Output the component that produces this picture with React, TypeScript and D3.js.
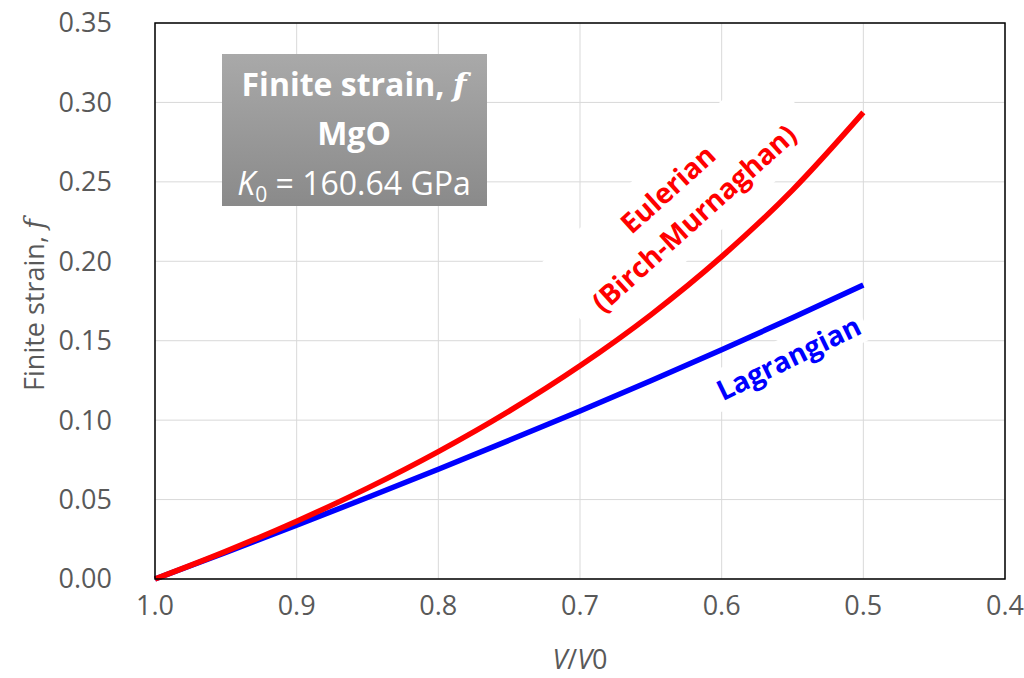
import React from "react";
import * as d3 from "d3";

// V/V0 sample points and the two finite strain curves
const volumeRatio = [1.0, 0.95, 0.9, 0.85, 0.8, 0.75, 0.7, 0.65, 0.6, 0.55, 0.5];
const eulerian = [0, 0.0174, 0.0364, 0.0572, 0.0802, 0.1057, 0.1342, 0.1663, 0.2029, 0.2448, 0.2937];
const lagrangian = [0, 0.0168, 0.0339, 0.0513, 0.0691, 0.0873, 0.1058, 0.1248, 0.1443, 0.1644, 0.185];

const xTicks = [1.0, 0.9, 0.8, 0.7, 0.6, 0.5, 0.4];
const yTicks = [0, 0.05, 0.1, 0.15, 0.2, 0.25, 0.3, 0.35];

const FONT = "'Open Sans', 'DejaVu Sans', sans-serif";

const App = () => {
  const width = 1024;
  const height = 678;
  const margin = { top: 23, left: 155, bottom: 99, right: 19 };

  const x = d3
    .scaleLinear()
    .domain([1.0, 0.4])
    .range([margin.left, width - margin.right]);

  const y = d3
    .scaleLinear()
    .domain([0, 0.35])
    .range([height - margin.bottom, margin.top]);

  const line = d3
    .line<number>()
    .x((d, i) => x(volumeRatio[i]))
    .y((d) => y(d))
    .curve(d3.curveMonotoneX);

  const plotW = x(0.4) - x(1.0);
  const plotH = y(0) - y(0.35);

  return (
    <svg width={width} height={height} style={{ position: "absolute", left: 0, top: 0, background: "#fff" }}>
      <rect x={0} y={0} width={width} height={height} fill="#fff" />
      <defs>
        <linearGradient id="boxGrad" x1="0" y1="0" x2="0" y2="1">
          <stop offset="0%" stopColor="#a9a9a9" />
          <stop offset="100%" stopColor="#8a8a8a" />
        </linearGradient>
      </defs>

      {/* grid */}
      <g stroke="#d9d9d9" strokeWidth={1}>
        {xTicks.map((t) => (
          <line key={"gx" + t} x1={x(t)} x2={x(t)} y1={y(0)} y2={y(0.35)} />
        ))}
        {yTicks.map((t) => (
          <line key={"gy" + t} x1={x(1.0)} x2={x(0.4)} y1={y(t)} y2={y(t)} />
        ))}
      </g>

      {/* tick labels */}
      <g fontFamily={FONT} fontSize={27} fill="#595959">
        {yTicks.map((t) => (
          <text key={"ty" + t} x={x(1.0) - 43} y={y(t)} dy="0.35em" textAnchor="end">
            {d3.format(".2f")(t)}
          </text>
        ))}
        {xTicks.map((t) => (
          <text key={"tx" + t} x={x(t)} y={y(0) + 36} textAnchor="middle">
            {d3.format(".1f")(t)}
          </text>
        ))}
      </g>

      {/* axis titles */}
      <text
        transform={`translate(44, ${(y(0) + y(0.35)) / 2 + 4}) rotate(-90)`}
        textAnchor="middle"
        fontFamily={FONT}
        fontSize={27}
        fill="#595959"
      >
        Finite strain, <tspan fontStyle="italic" fontFamily="'DejaVu Serif', serif">f</tspan>
      </text>
      <text x={(x(1.0) + x(0.4)) / 2} y={669} textAnchor="middle" fontFamily={FONT} fontSize={27} fill="#595959">
        <tspan fontStyle="italic">V</tspan>/<tspan fontStyle="italic">V</tspan>0
      </text>

      {/* label backgrounds */}
      <g transform="translate(684, 207) rotate(-42)">
        <rect x={-152} y={-54} width={304} height={96} fill="#fff" />
      </g>
      <g transform="translate(789, 359) rotate(-26)">
        <rect x={-84} y={-22} width={168} height={40} fill="#fff" />
      </g>

      {/* curves */}
      <path d={line(lagrangian) || ""} fill="none" stroke="#0000ff" strokeWidth={5.5} />
      <path d={line(eulerian) || ""} fill="none" stroke="#ff0000" strokeWidth={5.5} />

      {/* curve labels */}
      <g transform="translate(684, 207) rotate(-42)" fontFamily={FONT} fontWeight="bold" fontSize={28} fill="#ff0000" textAnchor="middle">
        <text x={0} y={-14}>Eulerian</text>
        <text x={0} y={25}>(Birch-Murnaghan)</text>
      </g>
      <g transform="translate(789, 359) rotate(-26)" fontFamily={FONT} fontWeight="bold" fontSize={28} fill="#0000ff" textAnchor="middle">
        <text x={0} y={9}>Lagrangian</text>
      </g>

      {/* info box */}
      <rect x={222} y={54} width={265} height={152} fill="url(#boxGrad)" />
      <g fontFamily={FONT} fill="#fff" textAnchor="middle" fontSize={32}>
        <text x={354} y={96} fontWeight="bold">
          Finite strain, <tspan fontStyle="italic" fontFamily="'DejaVu Serif', serif">f</tspan>
        </text>
        <text x={354} y={145} fontWeight="bold">MgO</text>
        <text x={354} y={195}>
          <tspan fontStyle="italic">K</tspan>
          <tspan fontSize={21} dy={7}>0</tspan>
          <tspan dy={-7}> = 160.64 GPa</tspan>
        </text>
      </g>

      {/* plot border */}
      <rect x={x(1.0)} y={y(0.35)} width={plotW} height={plotH} fill="none" stroke="#000" strokeWidth={1.5} />
    </svg>
  );
};

export default App;
